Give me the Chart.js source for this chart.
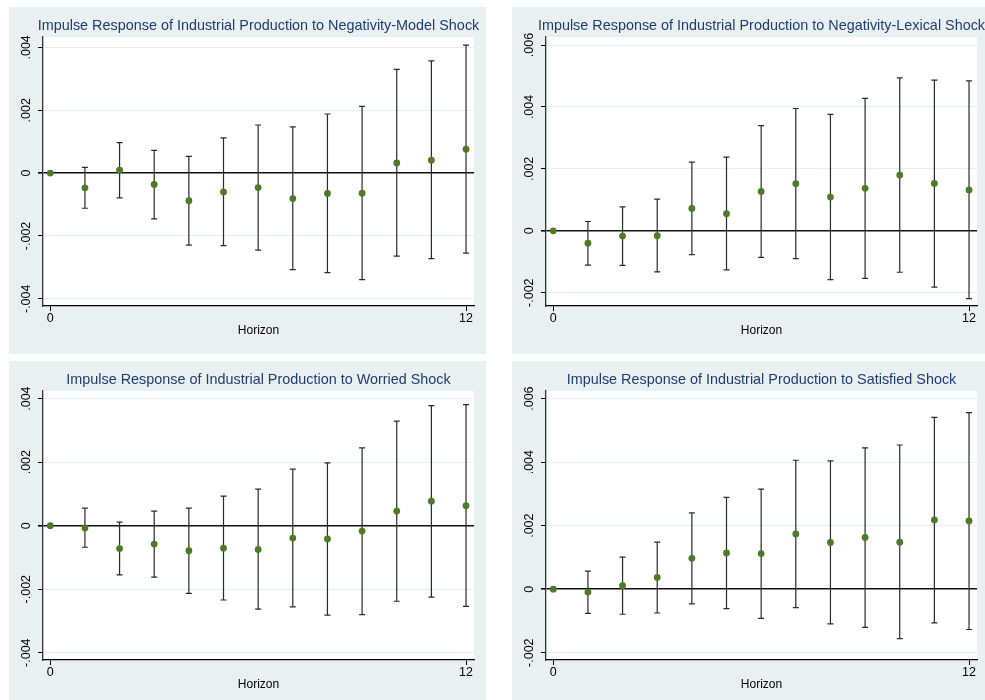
<!DOCTYPE html>
<html lang="en">
  <head>
    <meta charset="UTF-8" />
    <script src="https://cdn.jsdelivr.net/npm/chart.js"></script>
    <title>Impulse responses of industrial production</title>
    <style>
      html, body { margin: 0; padding: 0; background: #ffffff; }
      body { position: relative; width: 985px; height: 700px; overflow: hidden; }
      .panel { position: absolute; width: 477px; height: 347px; background: #e9f0f2; }
    </style>
  </head>
  <body>
    <div class="panel" style="left: 9px; top: 7px"><canvas id="irfModel"></canvas></div>
    <div class="panel" style="left: 512px; top: 7px"><canvas id="irfLexical"></canvas></div>
    <div class="panel" style="left: 9px; top: 361px"><canvas id="irfWorried"></canvas></div>
    <div class="panel" style="left: 512px; top: 361px"><canvas id="irfSatisfied"></canvas></div>
  </body>
  <script>
    // horizons 0..12 and the x ticks that get labels
    const horizons = [0, 1, 2, 3, 4, 5, 6, 7, 8, 9, 10, 11, 12];
    const xTicks = [0, 12];

    // y ticks for the two scale layouts
    const yTicksSym = [-0.004, -0.002, 0, 0.002, 0.004];
    const yTicksPos = [-0.002, 0, 0.002, 0.004, 0.006];

    // Negativity-Model shock
    const modelIrf = [0, -0.00047, 0.00009, -0.00036, -0.00088, -0.0006, -0.00046, -0.00081, -0.00065, -0.00064, 0.00032, 0.00041, 0.00076];
    const modelLo = [0, -0.00112, -0.00079, -0.00146, -0.00229, -0.00231, -0.00245, -0.00307, -0.00317, -0.00339, -0.00264, -0.00272, -0.00255];
    const modelHi = [0, 0.00018, 0.00097, 0.00072, 0.00053, 0.00112, 0.00153, 0.00147, 0.00188, 0.00212, 0.0033, 0.00357, 0.00407];

    // Negativity-Lexical shock
    const lexicalIrf = [0, -0.0004, -0.00017, -0.00016, 0.00072, 0.00055, 0.00127, 0.00152, 0.00109, 0.00137, 0.0018, 0.00153, 0.00132];
    const lexicalLo = [0, -0.00111, -0.00112, -0.00133, -0.00077, -0.00126, -0.00086, -0.0009, -0.00158, -0.00154, -0.00134, -0.00182, -0.00219];
    const lexicalHi = [0, 0.0003, 0.00077, 0.00102, 0.00222, 0.00238, 0.0034, 0.00395, 0.00376, 0.00428, 0.00494, 0.00487, 0.00484];

    // Worried shock
    const worriedIrf = [0, -0.00007, -0.00072, -0.00058, -0.00079, -0.00071, -0.00075, -0.00039, -0.00042, -0.00017, 0.00046, 0.00077, 0.00063];
    const worriedLo = [0, -0.00068, -0.00155, -0.00162, -0.00213, -0.00234, -0.00263, -0.00256, -0.00282, -0.0028, -0.00238, -0.00225, -0.00254];
    const worriedHi = [0, 0.00055, 0.00011, 0.00046, 0.00055, 0.00093, 0.00115, 0.00178, 0.00198, 0.00245, 0.00329, 0.00378, 0.00381];

    // Satisfied shock
    const satisfiedIrf = [0, -0.00009, 0.00011, 0.00037, 0.00097, 0.00114, 0.00112, 0.00174, 0.00147, 0.00163, 0.00148, 0.00218, 0.00215];
    const satisfiedLo = [0, -0.00076, -0.00079, -0.00075, -0.00046, -0.00061, -0.00092, -0.00058, -0.00109, -0.0012, -0.00156, -0.00106, -0.00127];
    const satisfiedHi = [0, 0.00057, 0.00101, 0.00148, 0.0024, 0.00289, 0.00315, 0.00406, 0.00404, 0.00445, 0.00454, 0.00541, 0.00556];

    const fontFamily = "'Liberation Sans', Arial, sans-serif";
    const markerGreen = "#4f7a28";
    const gridColor = "#e6eef1";

    // stata style labels: .002, -.004, 0
    function stataLabel(v) {
      if (Math.abs(v) < 1e-12) return "0";
      return v.toFixed(3).replace("0.", ".");
    }

    // white plot region inside the tinted graph region
    const plotRegion = {
      id: "plotRegion",
      beforeDraw(chart) {
        const { ctx, chartArea } = chart;
        ctx.save();
        ctx.fillStyle = "#ffffff";
        ctx.fillRect(chartArea.left, chartArea.top, chartArea.right - chartArea.left, chartArea.bottom - chartArea.top);
        ctx.restore();
      },
    };

    // title centred over the plot region, never squeezed
    const plotTitle = {
      id: "plotTitle",
      afterDraw(chart, args, opts) {
        const { ctx, chartArea } = chart;
        ctx.save();
        ctx.fillStyle = "#1f3c6e";
        ctx.font = "14.4px " + fontFamily;
        ctx.textAlign = "center";
        ctx.textBaseline = "middle";
        ctx.fillText(opts.text, (chartArea.left + chartArea.right) / 2, 19);
        ctx.restore();
      },
    };

    // capped confidence bands, drawn under the markers
    const errorBars = {
      id: "errorBars",
      beforeDatasetsDraw(chart, args, opts) {
        const { ctx } = chart;
        const x = chart.scales.x;
        const y = chart.scales.y;
        ctx.save();
        ctx.strokeStyle = "#2a2a2a";
        ctx.lineWidth = 1.2;
        opts.lo.forEach((lo, i) => {
          const hi = opts.hi[i];
          if (lo === hi) return;
          const px = x.getPixelForValue(horizons[i]);
          const pLo = y.getPixelForValue(lo);
          const pHi = y.getPixelForValue(hi);
          ctx.beginPath();
          ctx.moveTo(px, pLo);
          ctx.lineTo(px, pHi);
          ctx.moveTo(px - 3, pLo);
          ctx.lineTo(px + 3, pLo);
          ctx.moveTo(px - 3, pHi);
          ctx.lineTo(px + 3, pHi);
          ctx.stroke();
        });
        ctx.restore();
      },
    };

    // rotated y tick labels, reading bottom to top
    const rotatedYLabels = {
      id: "rotatedYLabels",
      afterDraw(chart) {
        const { ctx, chartArea } = chart;
        const y = chart.scales.y;
        ctx.save();
        ctx.fillStyle = "#000";
        ctx.font = "12.5px " + fontFamily;
        ctx.textAlign = "center";
        ctx.textBaseline = "middle";
        y.ticks.forEach((t, i) => {
          const py = y.getPixelForTick(i);
          ctx.save();
          ctx.translate(chartArea.left - 16, py);
          ctx.rotate(-Math.PI / 2);
          ctx.fillText(stataLabel(t.value), 0, 0);
          ctx.restore();
        });
        ctx.restore();
      },
    };

    function drawIrf(id, title, irf, lo, hi, yTicks, yMin, yMax) {
      new Chart(document.getElementById(id), {
        type: "scatter",
        data: {
          datasets: [
            {
              data: horizons.map((h, i) => ({ x: h, y: irf[i] })),
              backgroundColor: markerGreen,
              borderWidth: 0,
              pointRadius: 3.4,
              showLine: false,
            },
          ],
        },
        options: {
          responsive: false,
          animation: false,
          events: [],
          layout: { padding: { top: 30, right: 12, bottom: 0, left: 0 } },
          plugins: {
            legend: { display: false },
            tooltip: { enabled: false },
            title: { display: false },
            plotTitle: { text: title },
            errorBars: { lo: lo, hi: hi },
          },
          scales: {
            x: {
              type: "linear",
              min: -0.21,
              max: 12.23,
              afterBuildTicks: (s) => { s.ticks = xTicks.map((v) => ({ value: v })); },
              afterFit: (s) => { s.height = 48; },
              grid: { drawOnChartArea: false, drawTicks: true, tickLength: 5, tickColor: "#000" },
              border: { display: true, color: "#000", width: 1.3 },
              ticks: { color: "#000", padding: 0, font: { family: fontFamily, size: 12.5 } },
              title: {
                display: true,
                text: "Horizon",
                color: "#000",
                font: { family: fontFamily, size: 12 },
                padding: { top: 0, bottom: 15.8 },
              },
            },
            y: {
              type: "linear",
              min: yMin,
              max: yMax,
              afterBuildTicks: (s) => { s.ticks = yTicks.map((v) => ({ value: v })); },
              afterFit: (s) => { s.width = 34; },
              grid: {
                drawTicks: true,
                tickLength: 5,
                tickColor: "#000",
                color: (c) => (c.tick && c.tick.value === 0 ? "#111" : gridColor),
                lineWidth: (c) => (c.tick && c.tick.value === 0 ? 1.6 : 1),
              },
              border: { display: true, color: "#333", width: 1.3 },
              ticks: { display: false },
            },
          },
        },
        plugins: [plotRegion, errorBars, rotatedYLabels, plotTitle],
      });
    }

    // canvases are sized to the panel boxes
    document.querySelectorAll("canvas").forEach((c) => { c.width = 477; c.height = 347; });

    drawIrf("irfModel", "Impulse Response of Industrial Production to Negativity-Model Shock",
      modelIrf, modelLo, modelHi, yTicksSym, -0.00423, 0.00433);
    drawIrf("irfLexical", "Impulse Response of Industrial Production to Negativity-Lexical Shock",
      lexicalIrf, lexicalLo, lexicalHi, yTicksPos, -0.00243, 0.00626);
    drawIrf("irfWorried", "Impulse Response of Industrial Production to Worried Shock",
      worriedIrf, worriedLo, worriedHi, yTicksSym, -0.00423, 0.00424);
    drawIrf("irfSatisfied", "Impulse Response of Industrial Production to Satisfied Shock",
      satisfiedIrf, satisfiedLo, satisfiedHi, yTicksPos, -0.00223, 0.00624);
  </script>
</html>
